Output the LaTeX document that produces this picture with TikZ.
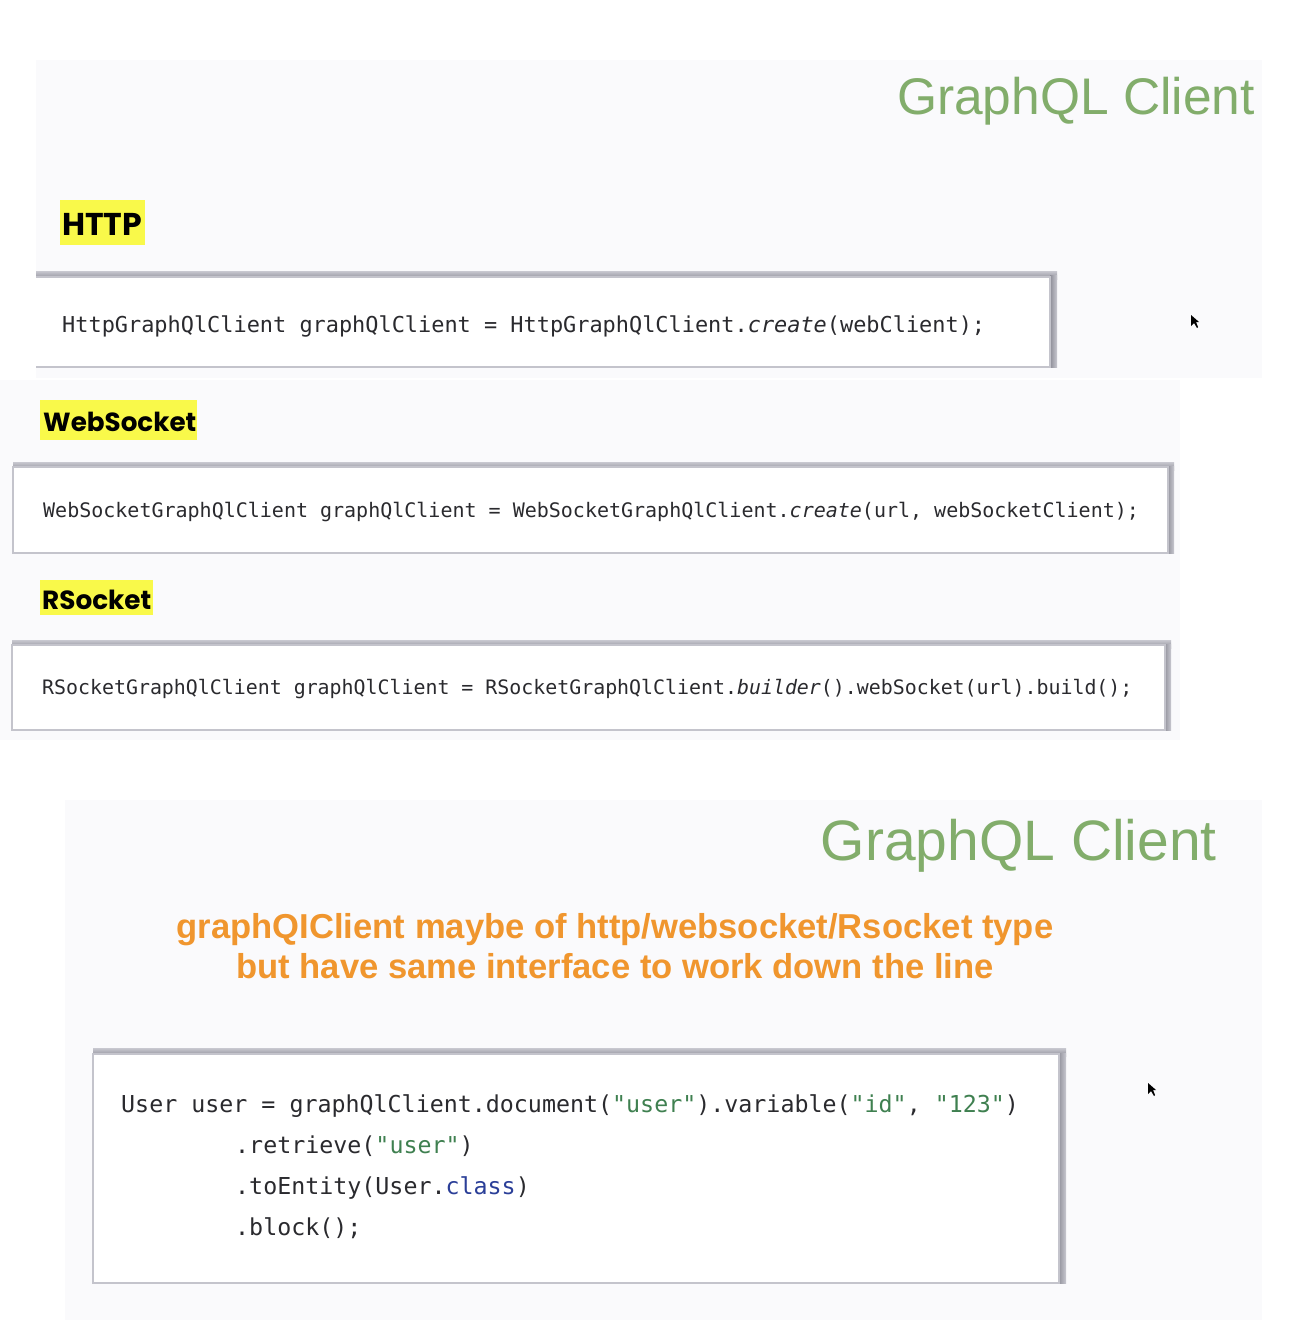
\documentclass[tikz,border=0pt]{standalone}
\usepackage{fontspec}
\setmainfont{Liberation Sans}
\newfontfamily\headfont{Poppins}
\newfontfamily\codefont{DejaVu Sans Mono}
\usetikzlibrary{positioning}
\definecolor{panelbg}{HTML}{FAFAFC}
\definecolor{hl}{HTML}{F9F94A}
\definecolor{gqlgreen}{HTML}{82AD6B}
\definecolor{orangetxt}{HTML}{F0962E}
\definecolor{codetxt}{HTML}{2A2A2E}
\definecolor{strgreen}{HTML}{3F8050}
\definecolor{kwblue}{HTML}{2B3F98}
\definecolor{boxline}{HTML}{C4C4CC}
\definecolor{shadowc}{HTML}{8E8E98}
\definecolor{shadowl}{HTML}{C8C8D0}
\tikzset{
  panel/.style={fill=panelbg, draw=none},
  hlbox/.style={fill=hl, draw=none},
  codebox/.style={fill=white, draw=boxline, line width=1.2pt},
  shadowtop/.style={top color=shadowl, bottom color=shadowc, draw=none},
  shadowright/.style={left color=shadowc, right color=shadowl, draw=none},
  heading/.style={anchor=base west, inner sep=0pt},
  codetext/.style={anchor=base west, inner sep=0pt, text=codetxt},
  greentitle/.style={anchor=base east, inner sep=0pt, text=gqlgreen},
  cursor/.style={fill=black, draw=none}
}
\newcommand{\str}[1]{\textcolor{strgreen}{#1}}
\begin{document}
\begin{tikzpicture}[x=1pt,y=-1pt]
\useasboundingbox (0,0) rectangle (1296,1324);
\fill[white] (0,0) rectangle (1296,1324);
% background panels
\fill[panel] (36,60) rectangle (1262,378);
\fill[panel] (0,380) rectangle (1180,740);
\fill[panel] (65,800) rectangle (1262,1320);

% top title
\node[greentitle, font=\fontsize{51.5}{60}\selectfont] (t1) at (1255,115) {GraphQL Client};

% HTTP
\fill[hlbox] (60,200) rectangle (145,245);
\node[heading, font=\headfont\bfseries\fontsize{31.5}{36}\selectfont] (hhttp) at (62,236) {HTTP};
\shade[shadowtop] (36,271) rectangle (1057,279);
\shade[shadowright] (1050,275) rectangle (1057,367);
\draw[codebox] (36,277) -- (1050,277) -- (1050,367) -- (36,367);
\node[codetext, font=\codefont\fontsize{21.9}{26}\selectfont] (chttp) at (62,332) {HttpGraphQlClient graphQlClient = HttpGraphQlClient.\textit{create}(webClient);};
\fill[cursor] (1191,315) -- (1191,326) -- (1194,323) -- (1197,328) -- (1198,327) -- (1196,322) -- (1199,322) -- cycle;

% WebSocket
\fill[hlbox] (40,400) rectangle (197,440);
\node[heading, font=\headfont\bfseries\fontsize{26.2}{32}\selectfont] (hws) at (43,431) {WebSocket};
\shade[shadowtop] (13,462) rectangle (1174,470);
\shade[shadowright] (1167,466) rectangle (1174,553);
\draw[codebox] (13,467) rectangle (1168,553);
\node[codetext, font=\codefont\fontsize{20}{24}\selectfont] (cws) at (43,517) {WebSocketGraphQlClient graphQlClient = WebSocketGraphQlClient.\textit{create}(url, webSocketClient);};

% RSocket
\fill[hlbox] (40,580) rectangle (153,615);
\node[heading, font=\headfont\bfseries\fontsize{26.3}{32}\selectfont] (hrs) at (42,609) {RSocket};
\shade[shadowtop] (12,640) rectangle (1171,648);
\shade[shadowright] (1164,644) rectangle (1171,730);
\draw[codebox] (12,645) rectangle (1165,730);
\node[codetext, font=\codefont\fontsize{19.9}{24}\selectfont] (crs) at (42,694) {RSocketGraphQlClient graphQlClient = RSocketGraphQlClient.\textit{builder}().webSocket(url).build();};

% bottom title
\node[greentitle, font=\fontsize{57}{66}\selectfont] (t2) at (1217,860) {GraphQL Client};

% orange note
\node[anchor=base, inner sep=0pt, text=orangetxt, font=\bfseries\fontsize{34.6}{42}\selectfont] (n1) at (615,938) {graphQIClient maybe of http/websocket/Rsocket type};
\node[anchor=base, inner sep=0pt, text=orangetxt, font=\bfseries\fontsize{34.6}{42}\selectfont] (n2) at (615,978) {but have same interface to work down the line};

% bottom code box
\shade[shadowtop] (93,1048) rectangle (1066,1056);
\shade[shadowright] (1058,1053) rectangle (1066,1283);
\draw[codebox] (93,1054) rectangle (1059,1283);
\node[codetext, font=\codefont\fontsize{23.3}{28}\selectfont] (l1) at (121,1112) {User user = graphQlClient.document(\str{"user"}).variable(\str{"id"}, \str{"123"})};
\node[codetext, font=\codefont\fontsize{23.3}{28}\selectfont] (l2) at (235,1153) {.retrieve(\str{"user"})};
\node[codetext, font=\codefont\fontsize{23.3}{28}\selectfont] (l3) at (235,1194) {.toEntity(User.\textcolor{kwblue}{class})};
\node[codetext, font=\codefont\fontsize{23.3}{28}\selectfont] (l4) at (235,1235) {.block();};
\fill[cursor] (1148,1083) -- (1148,1094) -- (1151,1091) -- (1154,1096) -- (1155,1095) -- (1153,1090) -- (1156,1090) -- cycle;
\end{tikzpicture}
\end{document}
